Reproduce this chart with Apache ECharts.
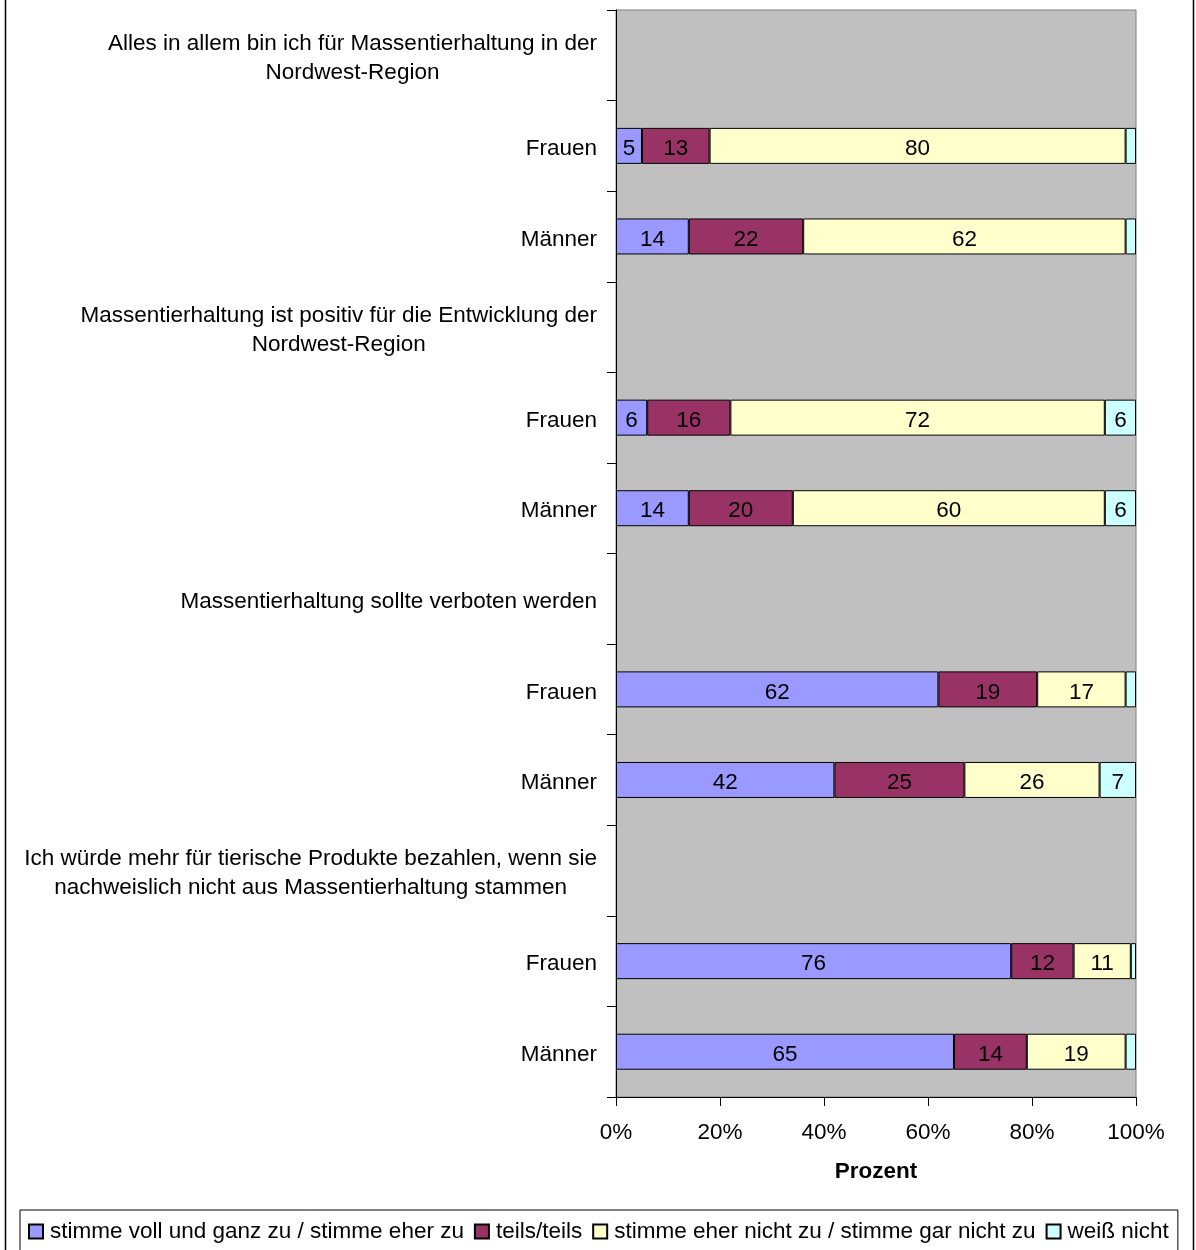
<!DOCTYPE html>
<html>
<head>
<meta charset="utf-8">
<script src="https://cdn.jsdelivr.net/npm/echarts@6/dist/echarts.min.js"></script>
<style>
html,body{margin:0;padding:0;background:#fff;}
#chart{width:1196px;height:1250px;}
</style>
</head>
<body>
<div id="chart"></div>
<script>
const categories = [
  'Alles in allem bin ich für Massentierhaltung in der\nNordwest-Region',
  'Frauen', 'Männer',
  'Massentierhaltung ist positiv für die Entwicklung der\nNordwest-Region',
  'Frauen', 'Männer',
  'Massentierhaltung sollte verboten werden',
  'Frauen', 'Männer',
  'Ich würde mehr für tierische Produkte bezahlen, wenn sie\nnachweislich nicht aus Massentierhaltung stammen',
  'Frauen', 'Männer'
];
const seriesNames = [
  'stimme voll und ganz zu / stimme eher zu',
  'teils/teils',
  'stimme eher nicht zu / stimme gar nicht zu',
  'weiß nicht'
];
const zustimmung = ['-', 5, 14, '-', 6, 14, '-', 62, 42, '-', 76, 65];
const teils      = ['-', 13, 22, '-', 16, 20, '-', 19, 25, '-', 12, 14];
const ablehnung  = ['-', 80, 62, '-', 72, 60, '-', 17, 26, '-', 11, 19];
const weissNicht = ['-', 2, 2, '-', 6, 6, '-', 2, 7, '-', 1, 2];
const xTicks = [0, 20, 40, 60, 80, 100];
const colors = ['#9999FF', '#993366', '#FFFFCC', '#CCFFFF'];

const FONT = "'Liberation Sans', Arial, sans-serif";
const FS = 22.5;
const values = [zustimmung, teils, ablehnung, weissNicht];

const chart = echarts.init(document.getElementById('chart'), null, {renderer: 'canvas'});
chart.setOption({
  animation: false,
  textStyle: {fontFamily: FONT},
  grid: {
    left: 616, right: 60, top: 10, bottom: 153,
    show: true, backgroundColor: '#C0C0C0', borderColor: '#808080', borderWidth: 1
  },
  xAxis: {
    type: 'value', min: 0, max: 100, interval: 20,
    name: 'Prozent', nameLocation: 'middle', nameGap: 63,
    nameTextStyle: {fontFamily: FONT, fontSize: FS, fontWeight: 'bold', color: '#000'},
    axisLine: {show: true, lineStyle: {color: '#000', width: 1}},
    axisTick: {show: true, length: 9, lineStyle: {color: '#000'}},
    splitLine: {show: false},
    axisLabel: {
      fontFamily: FONT, fontSize: FS, color: '#000', margin: 24,
      formatter: function (v) { return xTicks.indexOf(v) >= 0 ? v + '%' : ''; }
    }
  },
  yAxis: {
    type: 'category', inverse: true, data: categories,
    axisLine: {show: true, lineStyle: {color: '#000', width: 1}},
    axisTick: {show: true, length: 9, inside: false, lineStyle: {color: '#000'}},
    axisLabel: {
      margin: 19, color: '#000', fontFamily: FONT, fontSize: FS,
      formatter: function (v) { return '{c|' + v + '}'; },
      rich: {c: {align: 'center', fontFamily: FONT, fontSize: FS, lineHeight: 29, color: '#000', padding: [6, 0, 0, 0]}}
    }
  },
  legend: {
    left: 20, top: 1210,
    padding: [10, 9, 8, 8],
    itemWidth: 14, itemHeight: 14, itemGap: 10,
    borderColor: '#000', borderWidth: 1,
    icon: 'rect',
    textStyle: {fontFamily: FONT, fontSize: FS, color: '#000', padding: [0, 0, 0, 2]},
    data: seriesNames
  },
  graphic: [
    {type: 'line', shape: {x1: 5.5, y1: 0, x2: 5.5, y2: 1250}, style: {stroke: '#000', lineWidth: 1.5}},
    {type: 'line', shape: {x1: 1193.5, y1: 0, x2: 1193.5, y2: 1250}, style: {stroke: '#000', lineWidth: 1.5}}
  ],
  series: seriesNames.map(function (name, i) {
    return {
      name: name, type: 'bar', stack: 'total', barWidth: 36,
      data: values[i],
      itemStyle: {color: colors[i], borderColor: '#000', borderWidth: 1},
      label: {
        show: true, position: 'inside', color: '#000',
        fontFamily: FONT, fontSize: FS, offset: [0, 3],
        formatter: function (p) { return p.value >= 3 ? String(p.value) : ''; }
      },
      emphasis: {disabled: true}
    };
  })
});
</script>
</body>
</html>
